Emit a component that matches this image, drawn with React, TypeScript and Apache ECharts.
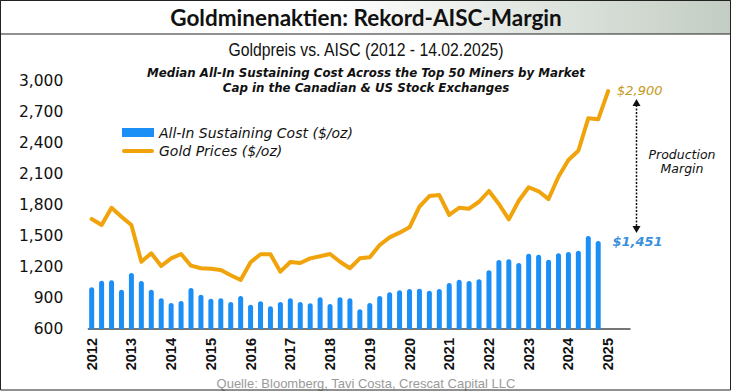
import React, { useEffect, useRef } from "react";
import * as echarts from "echarts";

// Year tick labels (one per 4 quarters, Q1 position)
const yearLabels = ["2012", "2013", "2014", "2015", "2016", "2017", "2018", "2019", "2020", "2021", "2022", "2023", "2024", "2025"];

// Quarterly median AISC ($/oz), 2012 Q1 .. 2024 Q4
const aiscValues = [
  1003, 1067, 1071, 980,
  1141, 1064, 980, 897,
  851, 871, 996, 932,
  893, 897, 861, 919,
  835, 868, 819, 861,
  897, 861, 848, 906,
  842, 906, 897, 790,
  851, 919, 955, 974,
  987, 990, 970, 987,
  1045, 1077, 1064, 1080,
  1167, 1267, 1274, 1238,
  1328, 1318, 1270, 1332,
  1344, 1357, 1499, 1451,
];

// Quarterly gold price ($/oz), 2012 Q1 .. 2025 Q1 (14.02.2025)
const goldValues = [
  1663, 1605, 1772, 1685,
  1605, 1250, 1332, 1209,
  1283, 1325, 1212, 1187,
  1183, 1170, 1119, 1074,
  1245, 1322, 1322, 1154,
  1248, 1238, 1283, 1303,
  1325, 1250, 1187, 1283,
  1293, 1412, 1486, 1531,
  1583, 1782, 1885, 1895,
  1702, 1772, 1763, 1830,
  1934, 1808, 1660, 1840,
  1970, 1931, 1856, 2072,
  2233, 2323, 2636, 2627,
  2900,
];

const yMin = 600;
const yMax = 3000;
const yStep = 300;

const titleText = "Goldminenaktien: Rekord-AISC-Margin";
const subtitleText = "Goldpreis vs. AISC (2012 - 14.02.2025)";
const noteLine1 = "Median All-In Sustaining Cost Across the Top 50 Miners by Market";
const noteLine2 = "Cap in the Canadian & US Stock Exchanges";
const sourceText = "Quelle: Bloomberg, Tavi Costa, Crescat Capital LLC";
const aiscName = "All-In Sustaining Cost ($/oz)";
const goldName = "Gold Prices ($/oz)";

const fmt = (v: number) => v.toLocaleString("en-US");

export default function App() {
  const ref = useRef<HTMLDivElement>(null);
  useEffect(() => {
    const chart = echarts.init(ref.current as HTMLDivElement, null, { renderer: "svg" });
    const lastGold = goldValues[goldValues.length - 1];
    const lastAisc = aiscValues[aiscValues.length - 1];
    const italic = { fontFamily: "'DejaVu Sans', Verdana, sans-serif", fontStyle: "italic" };
    chart.setOption({
      animation: false,
      backgroundColor: "#ffffff",
      grid: { left: 88.3, right: 102, top: 80.7, bottom: 63, containLabel: false },
      xAxis: {
        type: "value",
        min: -0.34,
        max: 54.2,
        axisLine: { show: true, onZero: false, lineStyle: { color: "#4a4a4a", width: 1.5 } },
        axisTick: { show: false },
        splitLine: { show: false },
        axisLabel: {
          customValues: yearLabels.map((_, i) => i * 4),
          formatter: (v: number) => yearLabels[Math.round(v / 4)] ?? "",
          rotate: 90,
          margin: 9,
          fontFamily: "'Liberation Sans', Arial, sans-serif",
          fontWeight: "bold",
          fontSize: 14.5,
          color: "#111",
        },
      },
      yAxis: {
        type: "value",
        min: yMin,
        max: yMax,
        interval: yStep,
        axisLine: { show: false },
        axisTick: { show: false },
        splitLine: { show: false },
        axisLabel: {
          formatter: (v: number) => fmt(v),
          margin: 25,
          fontFamily: "'DejaVu Sans', Verdana, sans-serif",
          fontSize: 15.5,
          color: "#111",
        },
      },
      legend: {
        orient: "vertical",
        left: 122,
        top: 125.5,
        padding: 0,
        itemWidth: 32,
        itemHeight: 9,
        itemGap: 4.5,
        textStyle: { ...italic, fontSize: 14, color: "#111" },
        data: [
          { name: aiscName, icon: "rect" },
          {
            name: goldName,
            icon: "path://M2,0 L30,0 A2,2 0 0 1 30,4 L2,4 A2,2 0 0 1 2,0 Z",
            symbolKeepAspect: true,
          },
        ],
      },
      series: [
        {
          name: aiscName,
          type: "bar",
          data: aiscValues.map((v, i) => [i, v]),
          barWidth: 5,
          itemStyle: { color: "#1b8ff5", borderRadius: [2.5, 2.5, 0, 0] },
        },
        {
          name: goldName,
          type: "line",
          data: goldValues.map((v, i) => [i, v]),
          symbol: "none",
          lineStyle: { color: "#f0a30a", width: 4, cap: "round", join: "round" },
          itemStyle: { color: "#f0a30a" },
        },
      ],
      graphic: [
        {
          type: "rect",
          z: -1,
          shape: { x: 0.5, y: 0.5, width: 730, height: 33.5 },
          style: {
            fill: new echarts.graphic.LinearGradient(0, 0, 1, 0, [
              { offset: 0, color: "#ffffff" },
              { offset: 0.45, color: "#ffffff" },
              { offset: 1, color: "#c3cdc3" },
            ]),
            stroke: "#222",
            lineWidth: 1,
          },
        },
        {
          type: "rect",
          z: 10,
          shape: { x: 0.5, y: 0.5, width: 730, height: 389.5 },
          style: { fill: "none", stroke: "#222", lineWidth: 1 },
        },
        {
          type: "text",
          x: 366,
          y: 17.5,
          style: { text: titleText, fontFamily: "Lato, sans-serif", fontWeight: "bold", fontSize: 22.5, fill: "#111", textAlign: "center", textVerticalAlign: "middle" },
        },
        {
          type: "text",
          x: 366,
          y: 49,
          scaleX: 0.83,
          style: { text: subtitleText, fontFamily: "'Liberation Sans', Arial, sans-serif", fontSize: 19, fill: "#111", textAlign: "center", textVerticalAlign: "middle" },
        },
        {
          type: "text",
          x: 366,
          y: 73,
          style: { text: noteLine1, ...italic, fontWeight: "bold", fontSize: 11.8, fill: "#111", textAlign: "center", textVerticalAlign: "middle" },
        },
        {
          type: "text",
          x: 366,
          y: 88,
          style: { text: noteLine2, ...italic, fontWeight: "bold", fontSize: 11.8, fill: "#111", textAlign: "center", textVerticalAlign: "middle" },
        },
        {
          type: "text",
          x: 617,
          y: 90,
          style: { text: "$" + fmt(lastGold), ...italic, fontSize: 13, fill: "#c49a22", textAlign: "left", textVerticalAlign: "middle" },
        },
        {
          type: "text",
          x: 612.5,
          y: 241,
          style: { text: "$" + fmt(lastAisc), ...italic, fontWeight: "bold", fontSize: 13, fill: "#3a90dc", textAlign: "left", textVerticalAlign: "middle" },
        },
        {
          type: "text",
          x: 682,
          y: 154,
          style: { text: "Production", ...italic, fontSize: 12.5, fill: "#111", textAlign: "center", textVerticalAlign: "middle" },
        },
        {
          type: "text",
          x: 682,
          y: 168,
          style: { text: "Margin", ...italic, fontSize: 12.5, fill: "#111", textAlign: "center", textVerticalAlign: "middle" },
        },
        {
          type: "line",
          shape: { x1: 636.5, y1: 105, x2: 636.5, y2: 227 },
          style: { stroke: "#111", lineWidth: 1.5, lineDash: [2, 1.5] },
        },
        {
          type: "polygon",
          shape: { points: [[632.5, 106], [640.5, 106], [636.5, 99]] },
          style: { fill: "#111" },
        },
        {
          type: "polygon",
          shape: { points: [[632.5, 226], [640.5, 226], [636.5, 233]] },
          style: { fill: "#111" },
        },
        {
          type: "text",
          x: 366,
          y: 383,
          style: { text: sourceText, fontFamily: "'Liberation Sans', Arial, sans-serif", fontSize: 13, fill: "#9a9a9a", textAlign: "center", textVerticalAlign: "middle" },
        },
      ],
    });
    return () => chart.dispose();
  }, []);
  return <div ref={ref} style={{ position: "fixed", left: 0, top: 0, width: 732, height: 392 }} />;
}
